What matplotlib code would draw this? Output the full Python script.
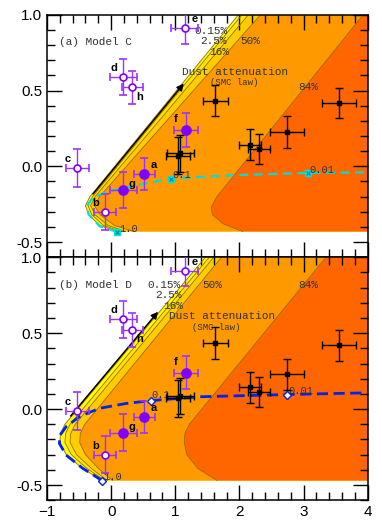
''' Two-panel colour / dust plot, Model C and Model D '''
import matplotlib
matplotlib.use('Agg')
import matplotlib.pyplot as plt
from matplotlib.ticker import MultipleLocator

plt.rcParams['font.family'] = 'Liberation Sans'

# purple galaxies
gal_names = ['a', 'b', 'c', 'd', 'e', 'f', 'g', 'h']
gal_x = [0.52, -0.10, -0.53, 0.19, 1.15, 1.17, 0.19, 0.33]
gal_y = [-0.05, -0.30, -0.01, 0.59, 0.91, 0.24, -0.155, 0.52]
gal_xerr = [0.16, 0.17, 0.18, 0.21, 0.21, 0.19, 0.21, 0.16]
gal_yerr = [0.105, 0.12, 0.125, 0.12, 0.10, 0.11, 0.12, 0.11]
gal_filled = [True, False, False, False, False, True, True, False]
# label offsets (data units) for each letter
lab_dx = [0.145, -0.145, -0.15, -0.15, 0.15, -0.17, 0.14, 0.11]
lab_dy = [0.057, 0.06, 0.057, 0.06, 0.06, 0.07, 0.04, -0.06]

# black comparison objects
ref_x = [1.62, 1.04, 1.08, 2.16, 2.30, 2.74, 3.55]
ref_y = [0.434, 0.07, 0.085, 0.143, 0.112, 0.228, 0.419]
ref_xerr = [0.195, 0.19, 0.21, 0.17, 0.17, 0.27, 0.27]
ref_yerr = [0.105, 0.12, 0.12, 0.10, 0.10, 0.105, 0.10]

levels = ['0.15%', '2.5%', '16%', '50%', '84%']
band_colors = ['#FFFF00', '#FFE600', '#FFCC00', '#FF9900', '#FF6600']

# contour boundaries, Model C (x list, y list) from outer to inner
C_floor = -0.43
C_y = [-0.43, -0.39, -0.32, -0.26, -0.20, 1.0]
C_bounds = [
    ([0.09, -0.18, -0.35, -0.40, -0.33, 1.985], C_y),
    ([0.15, -0.12, -0.30, -0.36, -0.29, 2.04], C_y),
    ([0.22, -0.05, -0.25, -0.32, -0.25, 2.14], C_y),
    ([0.35, 0.05, -0.17, -0.26, -0.18, 2.33], C_y),
    ([2.05, 1.75, 1.58, 1.56, 1.65, 3.93], [-0.43, -0.38, -0.32, -0.27, -0.20, 1.0]),
]
# Model D
D_floor = -0.47
D_y = [-0.47, -0.39, -0.30, -0.22, -0.16, -0.10, 1.0]
D_bounds = [
    ([-0.14, -0.45, -0.70, -0.80, -0.79, -0.72, 1.47], D_y),
    ([-0.10, -0.38, -0.62, -0.72, -0.71, -0.64, 1.53], D_y),
    ([-0.06, -0.31, -0.54, -0.64, -0.63, -0.56, 1.60], D_y),
    ([0.02, -0.20, -0.40, -0.49, -0.48, -0.41, 1.72], D_y),
    ([1.65, 1.35, 1.18, 1.14, 1.15, 1.22, 3.35], D_y),
]

# model tracks
C_track_x = [0.088, -0.18, -0.35, -0.38, -0.287, -0.078, 0.337, 0.94, 1.897, 3.07, 4.0]
C_track_y = [-0.432, -0.395, -0.318, -0.263, -0.208, -0.171, -0.13, -0.081, -0.059, -0.044, -0.04]
C_mark_x = [0.088, 0.94, 3.07]
C_mark_y = [-0.432, -0.081, -0.044]
D_track_x = [-0.136, -0.443, -0.702, -0.807, -0.796, -0.702, -0.495, -0.183, 0.234, 0.624, 1.378, 2.74, 4.0]
D_track_y = [-0.472, -0.39, -0.303, -0.226, -0.171, -0.116, -0.05, 0.005, 0.037, 0.056, 0.081, 0.096, 0.107]
D_mark_x = [-0.136, 0.624, 2.74]
D_mark_y = [-0.472, 0.056, 0.096]
mark_labels = ['1.0', '0.1', '0.01']

mono = 'Liberation Mono'


def draw_bands(ax, bounds, floor):
    for (bx, by), col in zip(bounds, band_colors):
        px = list(bx) + [4.6, 4.6]
        py = list(by) + [by[-1], floor]
        ax.fill(px, py, color=col, lw=0, zorder=1)
        ax.plot(bx, by, color='#9A6A00', lw=0.6, zorder=2)


def draw_points(ax):
    for i in range(len(gal_x)):
        face = '#8000FF' if gal_filled[i] else 'white'
        ms = 6.5 if gal_filled[i] else 5
        ax.errorbar(gal_x[i], gal_y[i], xerr=gal_xerr[i], yerr=gal_yerr[i],
                    fmt='o', ms=ms, mfc=face, mec='#8000FF', mew=1.2,
                    ecolor='#9933FF', elinewidth=1.0, capsize=3, capthick=1.0, zorder=6)
        ax.text(gal_x[i] + lab_dx[i], gal_y[i] + lab_dy[i], gal_names[i],
                fontsize=8, fontweight='bold', ha='center', va='center', zorder=7)
    ax.errorbar(ref_x, ref_y, xerr=ref_xerr, yerr=ref_yerr, fmt='s', ms=3.5,
                color='black', elinewidth=1.0, capsize=3, capthick=1.0, zorder=6)


def style_axis(ax):
    ax.set_xlim(-1, 4)
    ax.set_ylim(-0.6, 1.0)
    ax.xaxis.set_major_locator(MultipleLocator(1))
    ax.xaxis.set_minor_locator(MultipleLocator(0.2))
    ax.yaxis.set_major_locator(MultipleLocator(0.5))
    ax.yaxis.set_minor_locator(MultipleLocator(0.1))
    ax.tick_params(which='both', direction='in', top=True, right=True, width=1.0)
    ax.tick_params(which='major', length=11, labelsize=11)
    ax.tick_params(which='minor', length=5.5)
    for s in ax.spines.values():
        s.set_linewidth(1.1)
    ax.yaxis.set_major_formatter(matplotlib.ticker.FormatStrFormatter('%.1f'))


fig = plt.figure(figsize=(3.82, 5.30), dpi=100)
ax1 = fig.add_axes([0.123, 0.5147, 0.8396, 0.4575])
ax2 = fig.add_axes([0.123, 0.0562, 0.8396, 0.4585])

# ---- panel (a) Model C
draw_bands(ax1, C_bounds, C_floor)
ax1.plot(C_track_x, C_track_y, color='#00DDDD', lw=1.6, ls=(0, (4, 2.5)), zorder=3)
ax1.plot(C_mark_x, C_mark_y, 's', ms=4.5, color='#00DDDD', zorder=4)
ax1.plot(C_mark_x, C_mark_y, 'x', ms=3.5, color='#008C8C', mew=0.8, zorder=4)
ax1.annotate('', xy=(1.16, 0.56), xytext=(-0.31, -0.197),
             arrowprops=dict(arrowstyle='-|>', color='black', lw=1.1, mutation_scale=10), zorder=5)
ax1.text(-0.805, 0.822, '(a) Model C', family=mono, fontsize=8, color='#333333', va='center')
ax1.text(1.924, 0.625, 'Dust attenuation', family=mono, fontsize=8, color='#333333',
         ha='center', va='center')
ax1.text(1.924, 0.553, '(SMC law)', family=mono, fontsize=6.5, color='#333333',
         ha='center', va='center')
for lab, x, y in zip(levels, [1.56, 1.60, 1.69, 2.17, 3.07], [0.893, 0.827, 0.757, 0.827, 0.522]):
    ax1.text(x, y, lab, family=mono, fontsize=8, color='#333333', ha='center', va='center', zorder=5)
for lab, x, y in zip(mark_labels, [0.13, 0.96, 3.09], [-0.412, -0.055, -0.026]):
    ax1.text(x, y, lab, family=mono, fontsize=7.5, color='#333333', va='center', zorder=5)
draw_points(ax1)
style_axis(ax1)
ax1.tick_params(labelbottom=False)

# ---- panel (b) Model D
draw_bands(ax2, D_bounds, D_floor)
ax2.plot(D_track_x, D_track_y, color='#0022EE', lw=2.0, ls=(0, (4, 2)), zorder=3)
ax2.plot(D_mark_x, D_mark_y, 'D', ms=4, mfc='white', mec='#0022EE', mew=1.0, zorder=4)
ax2.annotate('', xy=(0.76, 0.655), xytext=(-0.66, -0.06),
             arrowprops=dict(arrowstyle='-|>', color='black', lw=1.1, mutation_scale=10), zorder=5)
ax2.text(-0.805, 0.82, '(b) Model D', family=mono, fontsize=8, color='#333333', va='center')
ax2.text(1.73, 0.61, 'Dust attenuation', family=mono, fontsize=8, color='#333333',
         ha='center', va='center')
ax2.text(1.64, 0.537, '(SMC law)', family=mono, fontsize=6.5, color='#333333',
         ha='center', va='center')
for lab, x, y in zip(levels, [0.83, 0.90, 0.96, 1.57, 3.07], [0.82, 0.75, 0.68, 0.82, 0.82]):
    ax2.text(x, y, lab, family=mono, fontsize=8, color='#333333', ha='center', va='center', zorder=5)
for lab, x, y in zip(mark_labels, [-0.12, 0.63, 2.76], [-0.445, 0.09, 0.12]):
    ax2.text(x, y, lab, family=mono, fontsize=7.5, color='#333333', va='center', zorder=5)
draw_points(ax2)
style_axis(ax2)

fig.savefig('out.png', dpi=100)
